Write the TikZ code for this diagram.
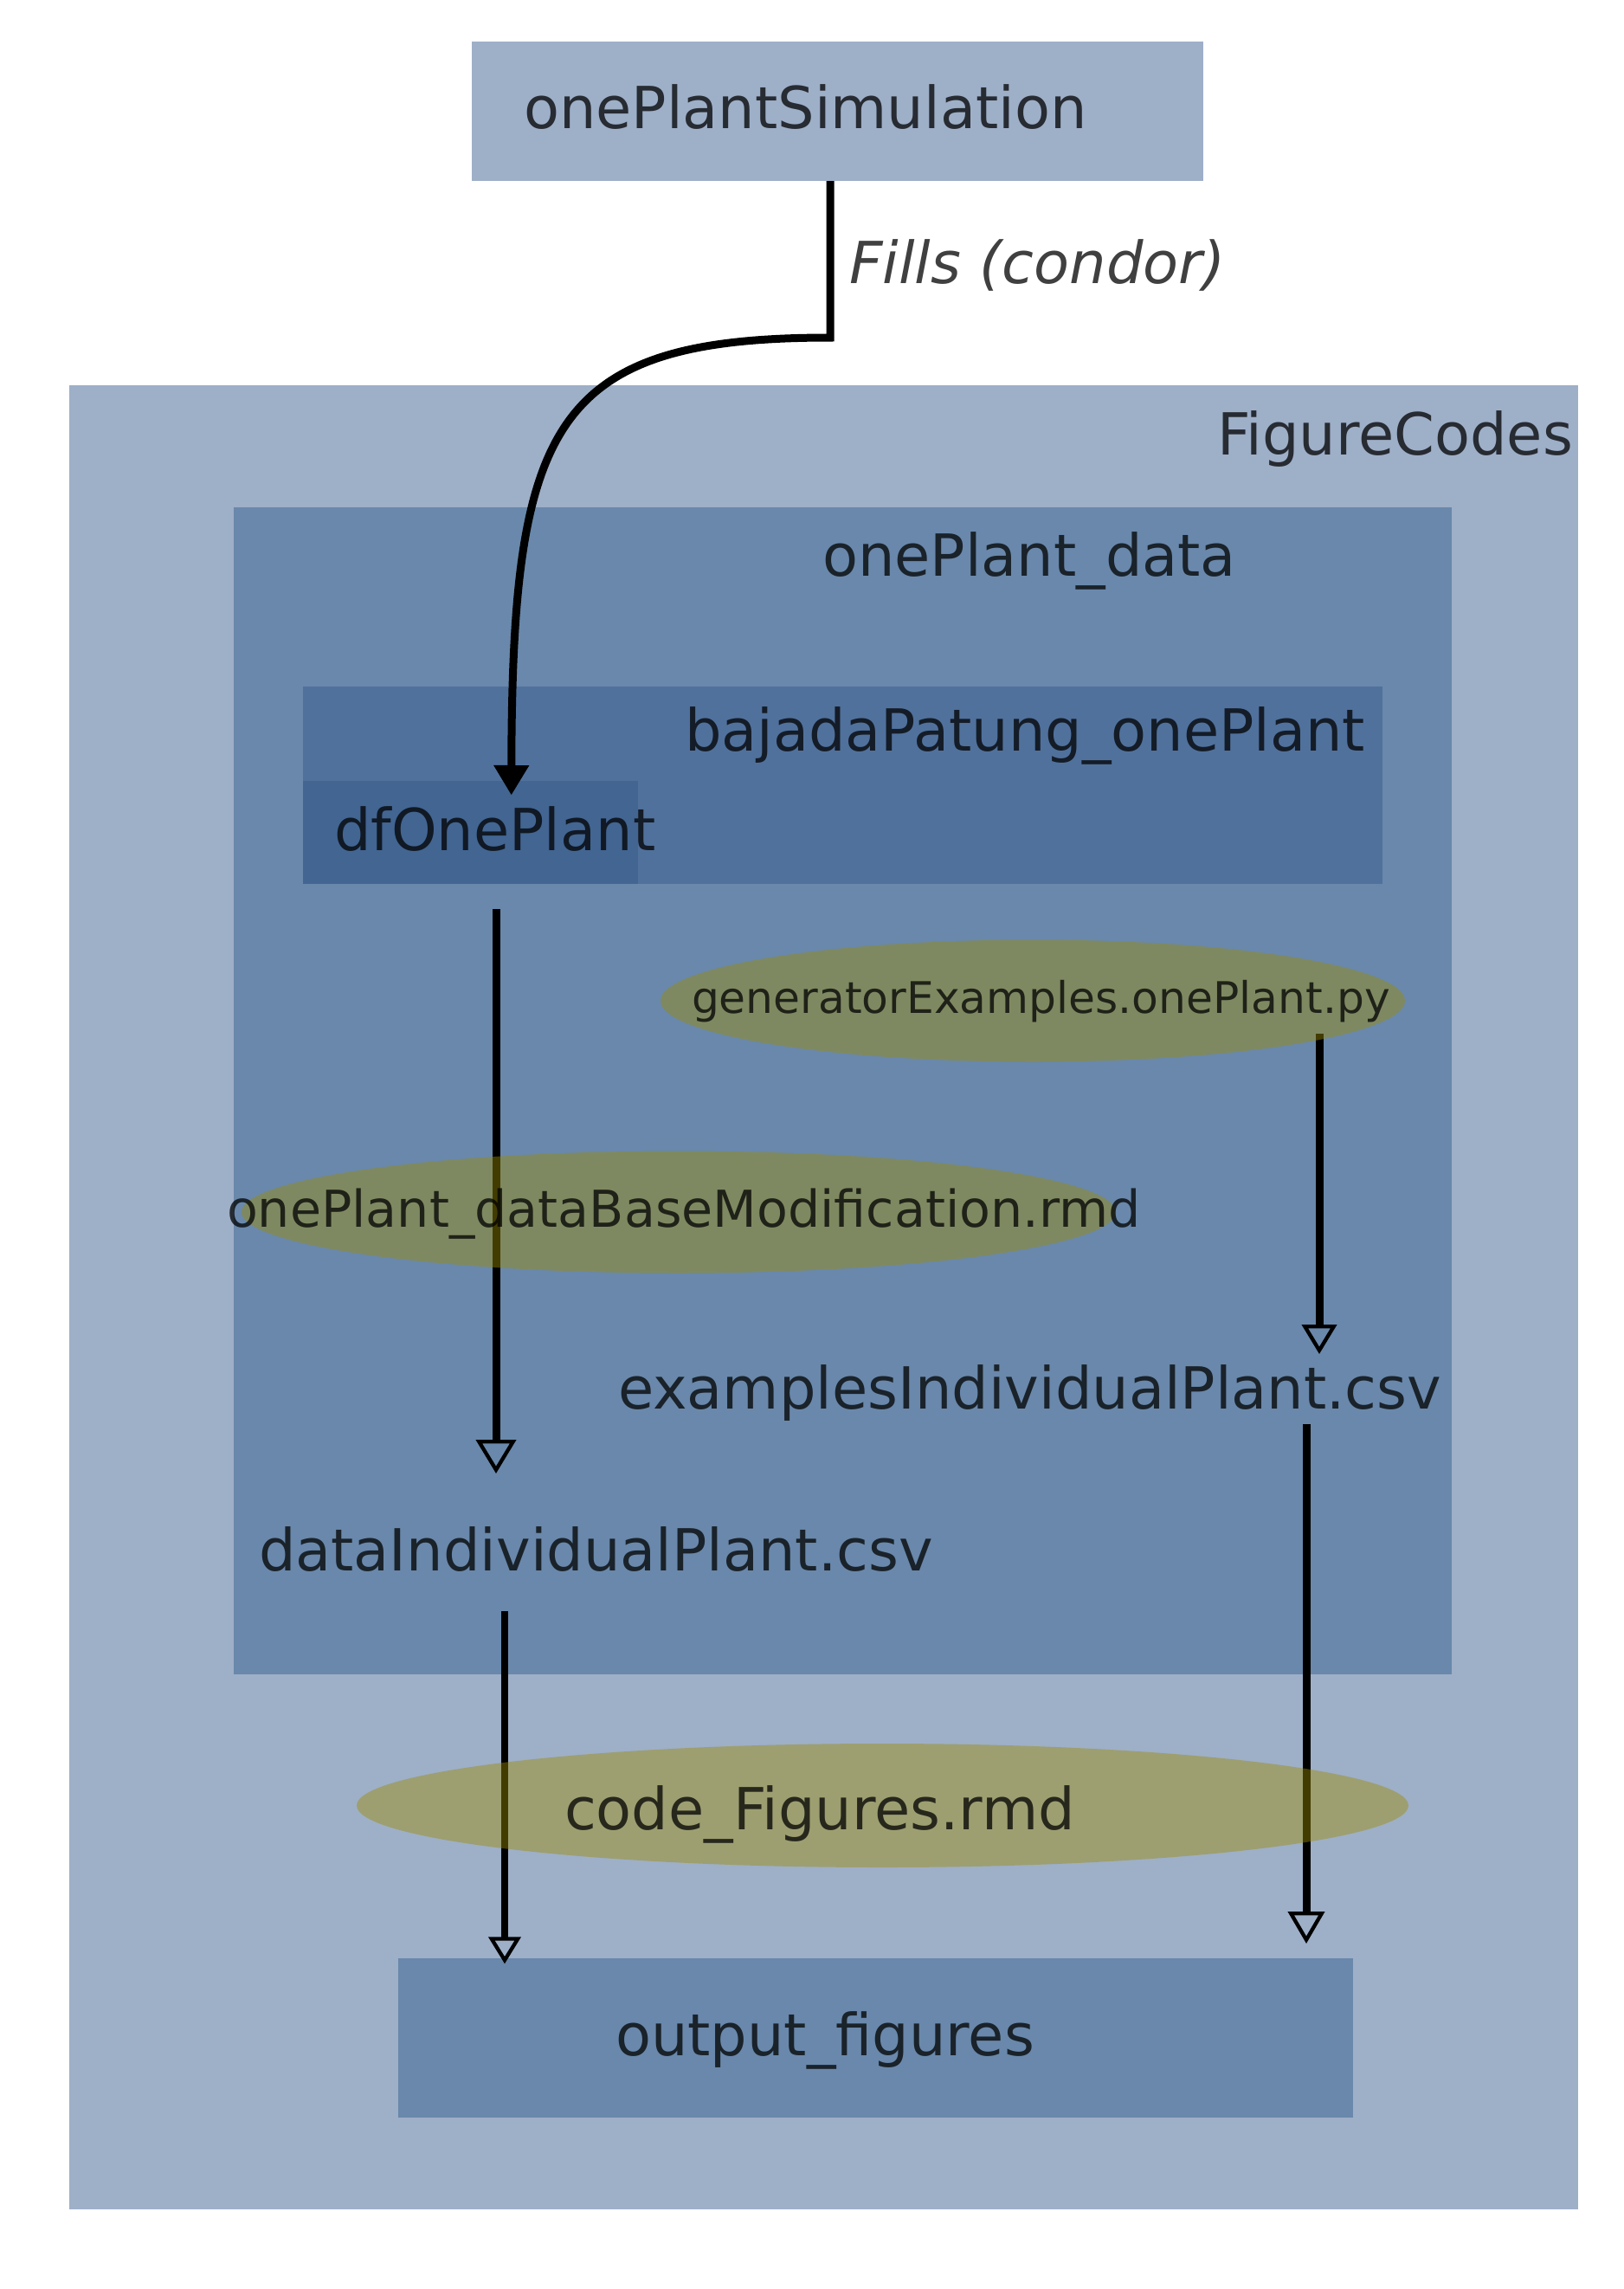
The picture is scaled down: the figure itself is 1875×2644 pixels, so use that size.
\documentclass[tikz,border=0pt]{standalone}
\usepackage{fontspec}
\setmainfont{DejaVu Sans}
\usetikzlibrary{arrows.meta,shapes.geometric}
\pgfdeclarelayer{bg}
\pgfdeclarelayer{fg}
\pgfdeclarelayer{top}
\pgfsetlayers{bg,main,fg,top}
\definecolor{cA}{RGB}{158,175,200}
\definecolor{cB}{RGB}{105,136,171}
\definecolor{cC}{RGB}{80,113,156}
\definecolor{cD}{RGB}{66,101,146}
\definecolor{olv}{RGB}{157,140,0}
\tikzset{
  box/.style={rectangle, inner sep=0pt, outer sep=0pt, draw=none},
  ell/.style={ellipse, inner sep=0pt, outer sep=0pt, draw=none, fill=olv, fill opacity=0.43},
  lbl/.style={inner sep=0pt, outer sep=0pt, anchor=base west, text=black, text opacity=0.75,
              font=\fontsize{67pt}{80pt}\selectfont},
  edge/.style={line width=9pt, draw=black},
  oarr/.style 2 args={-{Triangle[open,length=#1,width=#2,line width=4.3pt]}},
  farr/.style={-{Triangle[length=34pt,width=41pt,line width=1pt]}}
}
\begin{document}
\begin{tikzpicture}[x=1pt,y=-1pt]
\useasboundingbox (0,0) rectangle (1875,2644);
\begin{pgfonlayer}{bg}
\node[box,fill=cA,minimum width=845pt,minimum height=161pt] (sim) at (967.5,128.5) {};
\node[box,fill=cA,minimum width=1743pt,minimum height=2107pt] (fig) at (951.5,1498.5) {};
\node[box,fill=cB,minimum width=1407pt,minimum height=1348pt] (opd) at (973.5,1260) {};
\node[box,fill=cC,minimum width=1247.5pt,minimum height=228pt] (baj) at (973.25,907) {};
\node[box,fill=cD,minimum width=386.7pt,minimum height=119pt] (df) at (543.3,961.5) {};
\node[box,fill=cB,minimum width=1103pt,minimum height=184pt] (of) at (1011.5,2354) {};
\end{pgfonlayer}
\begin{pgfonlayer}{fg}
\node[ell,minimum width=860pt,minimum height=141pt] (gen) at (1193,1156) {};
\node[ell,minimum width=1010pt,minimum height=141pt] (dbm) at (784,1400) {};
\node[ell,minimum width=1215pt,minimum height=143pt] (cf) at (1019.5,2085.5) {};
\end{pgfonlayer}
\begin{pgfonlayer}{top}
\node[lbl] (simt) at (605,148) {onePlantSimulation};
\node[lbl,font=\fontsize{67pt}{80pt}\selectfont\itshape] (fills) at (981,327) {Fills (condor)};
\node[lbl] (figt) at (1406,525) {FigureCodes};
\node[lbl] (opdt) at (950,665) {onePlant\_data};
\node[lbl] (bajt) at (791,867) {bajadaPatung\_onePlant};
\node[lbl] (dft) at (386,982) {dfOnePlant};
\node[lbl,font=\fontsize{50.3pt}{60pt}\selectfont] (gent) at (799,1170) {generatorExamples.onePlant.py};
\node[lbl,font=\fontsize{58.7pt}{70pt}\selectfont] (dbmt) at (262,1417) {onePlant\_dataBaseModification.rmd};
\node[lbl] (exi) at (714,1627) {examplesIndividualPlant.csv};
\node[lbl] (dip) at (299,1814) {dataIndividualPlant.csv};
\node[lbl] (cft) at (652,2113) {code\_Figures.rmd};
\node[lbl] (oft) at (711,2374) {output\_figures};
\end{pgfonlayer}
% edges
\draw[edge,farr] ([xshift=-8.5pt]sim.south) -- ++(0,181)
  .. controls +(-320,0) and +(1,-430) .. ([xshift=47.4pt,yshift=-16pt]df.north);
\draw[edge,oarr={39pt}{46pt}] ([xshift=29.7pt,yshift=-29pt]df.south) -- ([xshift=274pt,yshift=112pt]dip.base west);
\draw[edge,oarr={34pt}{40pt}] ([xshift=331pt,yshift=-38pt]gen.center) -- ([xshift=810pt,yshift=63pt]exi.base west);
\draw[edge,line width=7.7pt,oarr={31pt}{37pt}] ([xshift=284pt,yshift=-47pt]dip.base west) -- ([xshift=-428.5pt,yshift=-6.3pt]of.north);
\draw[edge,oarr={37pt}{42pt}] ([xshift=795pt,yshift=-18pt]exi.base west) -- ([xshift=497.5pt,yshift=17pt]of.north);
\end{tikzpicture}
\end{document}
